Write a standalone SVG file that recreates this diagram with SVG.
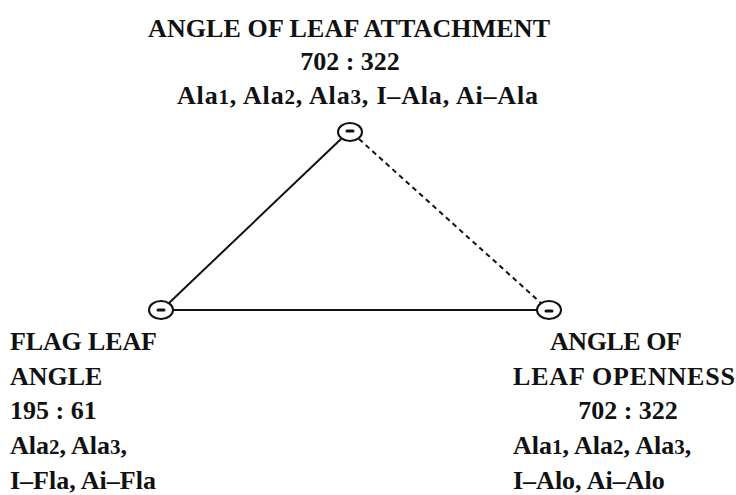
<svg xmlns="http://www.w3.org/2000/svg" width="736" height="495" viewBox="0 0 736 495">
<style>
text{font-family:"Liberation Serif","Times New Roman",serif;font-weight:bold;font-size:26px;fill:#111}
.s{font-size:21px}
.node ellipse{fill:none;stroke:#111;stroke-width:2}
.dot{stroke:#111;stroke-width:3;stroke-linecap:round}
.edge{stroke:#111;stroke-width:2;fill:none}
</style>
<rect width="736" height="495" fill="#fff"/>
<g id="connectors">
<line class="edge" x1="341" y1="139" x2="169" y2="303"/>
<line class="edge" x1="173" y1="310" x2="537" y2="310"/>
<line class="edge" x1="359" y1="139" x2="541" y2="303" stroke-dasharray="5,4"/>
</g>
<g id="node-attachment" class="node">
<ellipse cx="350" cy="132" rx="12" ry="9"/>
<line class="dot" x1="347" y1="131" x2="353" y2="131"/>
<text x="148" y="37" textLength="402" lengthAdjust="spacing">ANGLE OF LEAF ATTACHMENT</text>
<text x="350" y="70" text-anchor="middle">702 : 322</text>
<text x="177" y="104" textLength="361" lengthAdjust="spacing">Ala<tspan class="s">1</tspan>, Ala<tspan class="s">2</tspan>, Ala<tspan class="s">3</tspan>, I–Ala, Ai–Ala</text>
</g>
<g id="node-flag" class="node">
<ellipse cx="161" cy="310" rx="12" ry="9"/>
<line class="dot" x1="158" y1="310" x2="164" y2="310"/>
<text x="10" y="350" textLength="147" lengthAdjust="spacing">FLAG LEAF</text>
<text x="10" y="385">ANGLE</text>
<text x="10" y="419">195 : 61</text>
<text x="10" y="454">Ala<tspan class="s">2</tspan>, Ala<tspan class="s">3</tspan>,</text>
<text x="10" y="489">I–Fla, Ai–Fla</text>
</g>
<g id="node-openness" class="node">
<ellipse cx="549" cy="310" rx="12" ry="9"/>
<line class="dot" x1="546" y1="311" x2="552" y2="311"/>
<text x="550" y="350" textLength="132" lengthAdjust="spacing">ANGLE OF</text>
<text x="513" y="385" textLength="222" lengthAdjust="spacing">LEAF OPENNESS</text>
<text x="628" y="419" text-anchor="middle">702 : 322</text>
<text x="513" y="454">Ala<tspan class="s">1</tspan>, Ala<tspan class="s">2</tspan>, Ala<tspan class="s">3</tspan>,</text>
<text x="513" y="489">I–Alo, Ai–Alo</text>
</g>
</svg>
